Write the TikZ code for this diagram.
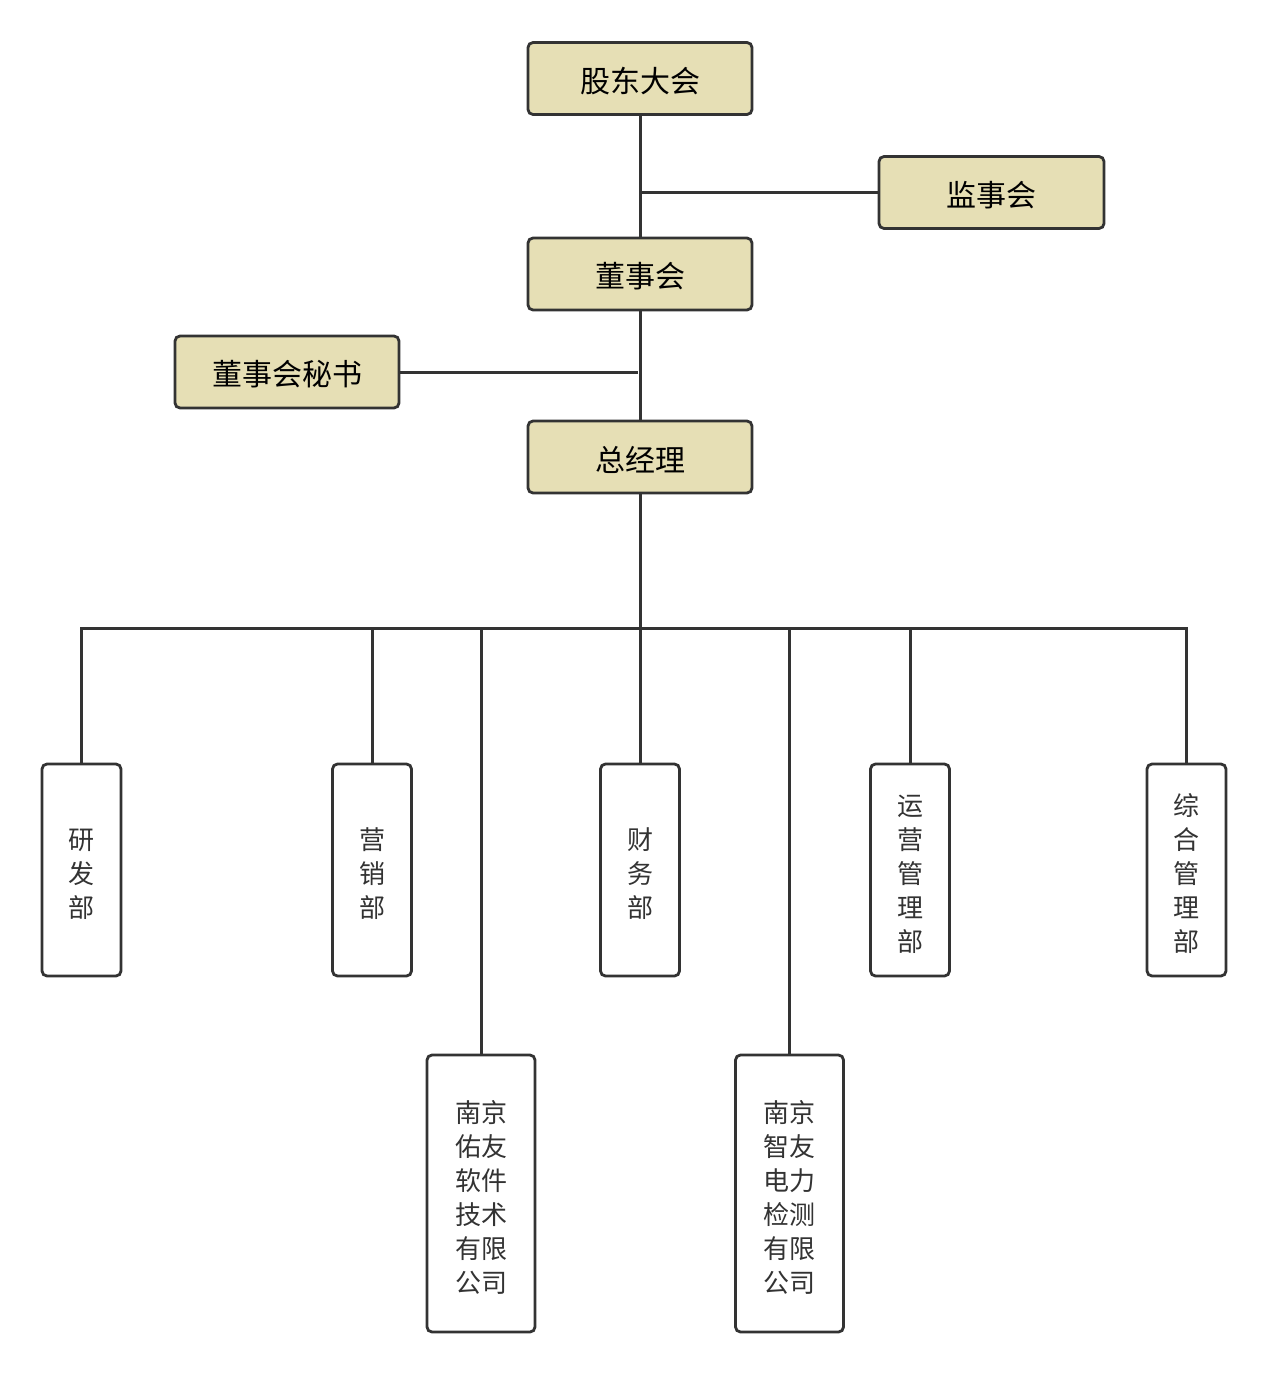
\documentclass[tikz,border=0pt]{standalone}
\usepackage{fontspec}
\newfontfamily\cjk{Noto Sans CJK SC}
\definecolor{boxfill}{HTML}{E6DFB5}
\definecolor{edge}{HTML}{333333}
\definecolor{txt}{HTML}{333333}
\begin{document}
\begin{tikzpicture}[x=1pt,y=-1pt,
  topbox/.style={draw=edge, line width=2.8pt, rounded corners=5pt, fill=boxfill,
    minimum width=224pt, minimum height=72pt, inner sep=0pt},
  toptext/.style={label={[font=\cjk\fontsize{30}{36}\selectfont, text=black, inner sep=0pt, yshift=-2.5pt]center:#1}},
  vbox/.style={draw=edge, line width=2.8pt, rounded corners=5pt, fill=white,
    minimum width=79pt, minimum height=212pt, inner sep=0pt},
  vtext/.style={label={[font=\cjk\fontsize{26}{34}\selectfont, text=txt, align=center, inner sep=0pt, yshift=-4pt]center:#1}},
  wbox/.style={vbox, minimum width=108pt, minimum height=277pt},
  conn/.style={draw=edge, line width=3pt}]
\useasboundingbox (0,0) rectangle (1269,1375);
\node[topbox, toptext={股东大会}] (gd) at (640,78.5) {};
\node[topbox, minimum width=225pt, toptext={监事会}] (jsh) at (991.5,192.5) {};
\node[topbox, toptext={董事会}] (dsh) at (640,274) {};
\node[topbox, toptext={董事会秘书}] (ms) at (287,372) {};
\node[topbox, toptext={总经理}] (zjl) at (640,457) {};
\node[vbox, vtext={研\\发\\部}] (yf) at (81.5,870) {};
\node[vbox, vtext={营\\销\\部}] (yx) at (372,870) {};
\node[vbox, vtext={财\\务\\部}] (cw) at (640,870) {};
\node[vbox, vtext={运\\营\\管\\理\\部}] (yy) at (910,870) {};
\node[vbox, vtext={综\\合\\管\\理\\部}] (zh) at (1186.5,870) {};
\node[wbox, vtext={南京\\佑友\\软件\\技术\\有限\\公司}] (yo) at (481,1193.5) {};
\node[wbox, vtext={南京\\智友\\电力\\检测\\有限\\公司}] (zy) at (789.5,1193.5) {};
\coordinate (bus) at (640,628);
\coordinate (secend) at (638,372);
\path[conn] (gd.south) -- (dsh.north);
\path[conn] (jsh.west) -- (jsh.west -| gd.south);
\path[conn] (dsh.south) -- (zjl.north);
\path[conn] (ms.east) -- (secend);
\path[conn] (zjl.south) -- (bus);
\path[conn] (bus) -| (yf.north);
\path[conn] (bus) -| (yx.north);
\path[conn] (bus) -- (cw.north);
\path[conn] (bus) -| (yy.north);
\path[conn] (bus) -| (zh.north);
\path[conn] (bus) -| (yo.north);
\path[conn] (bus) -| (zy.north);
\end{tikzpicture}
\end{document}
